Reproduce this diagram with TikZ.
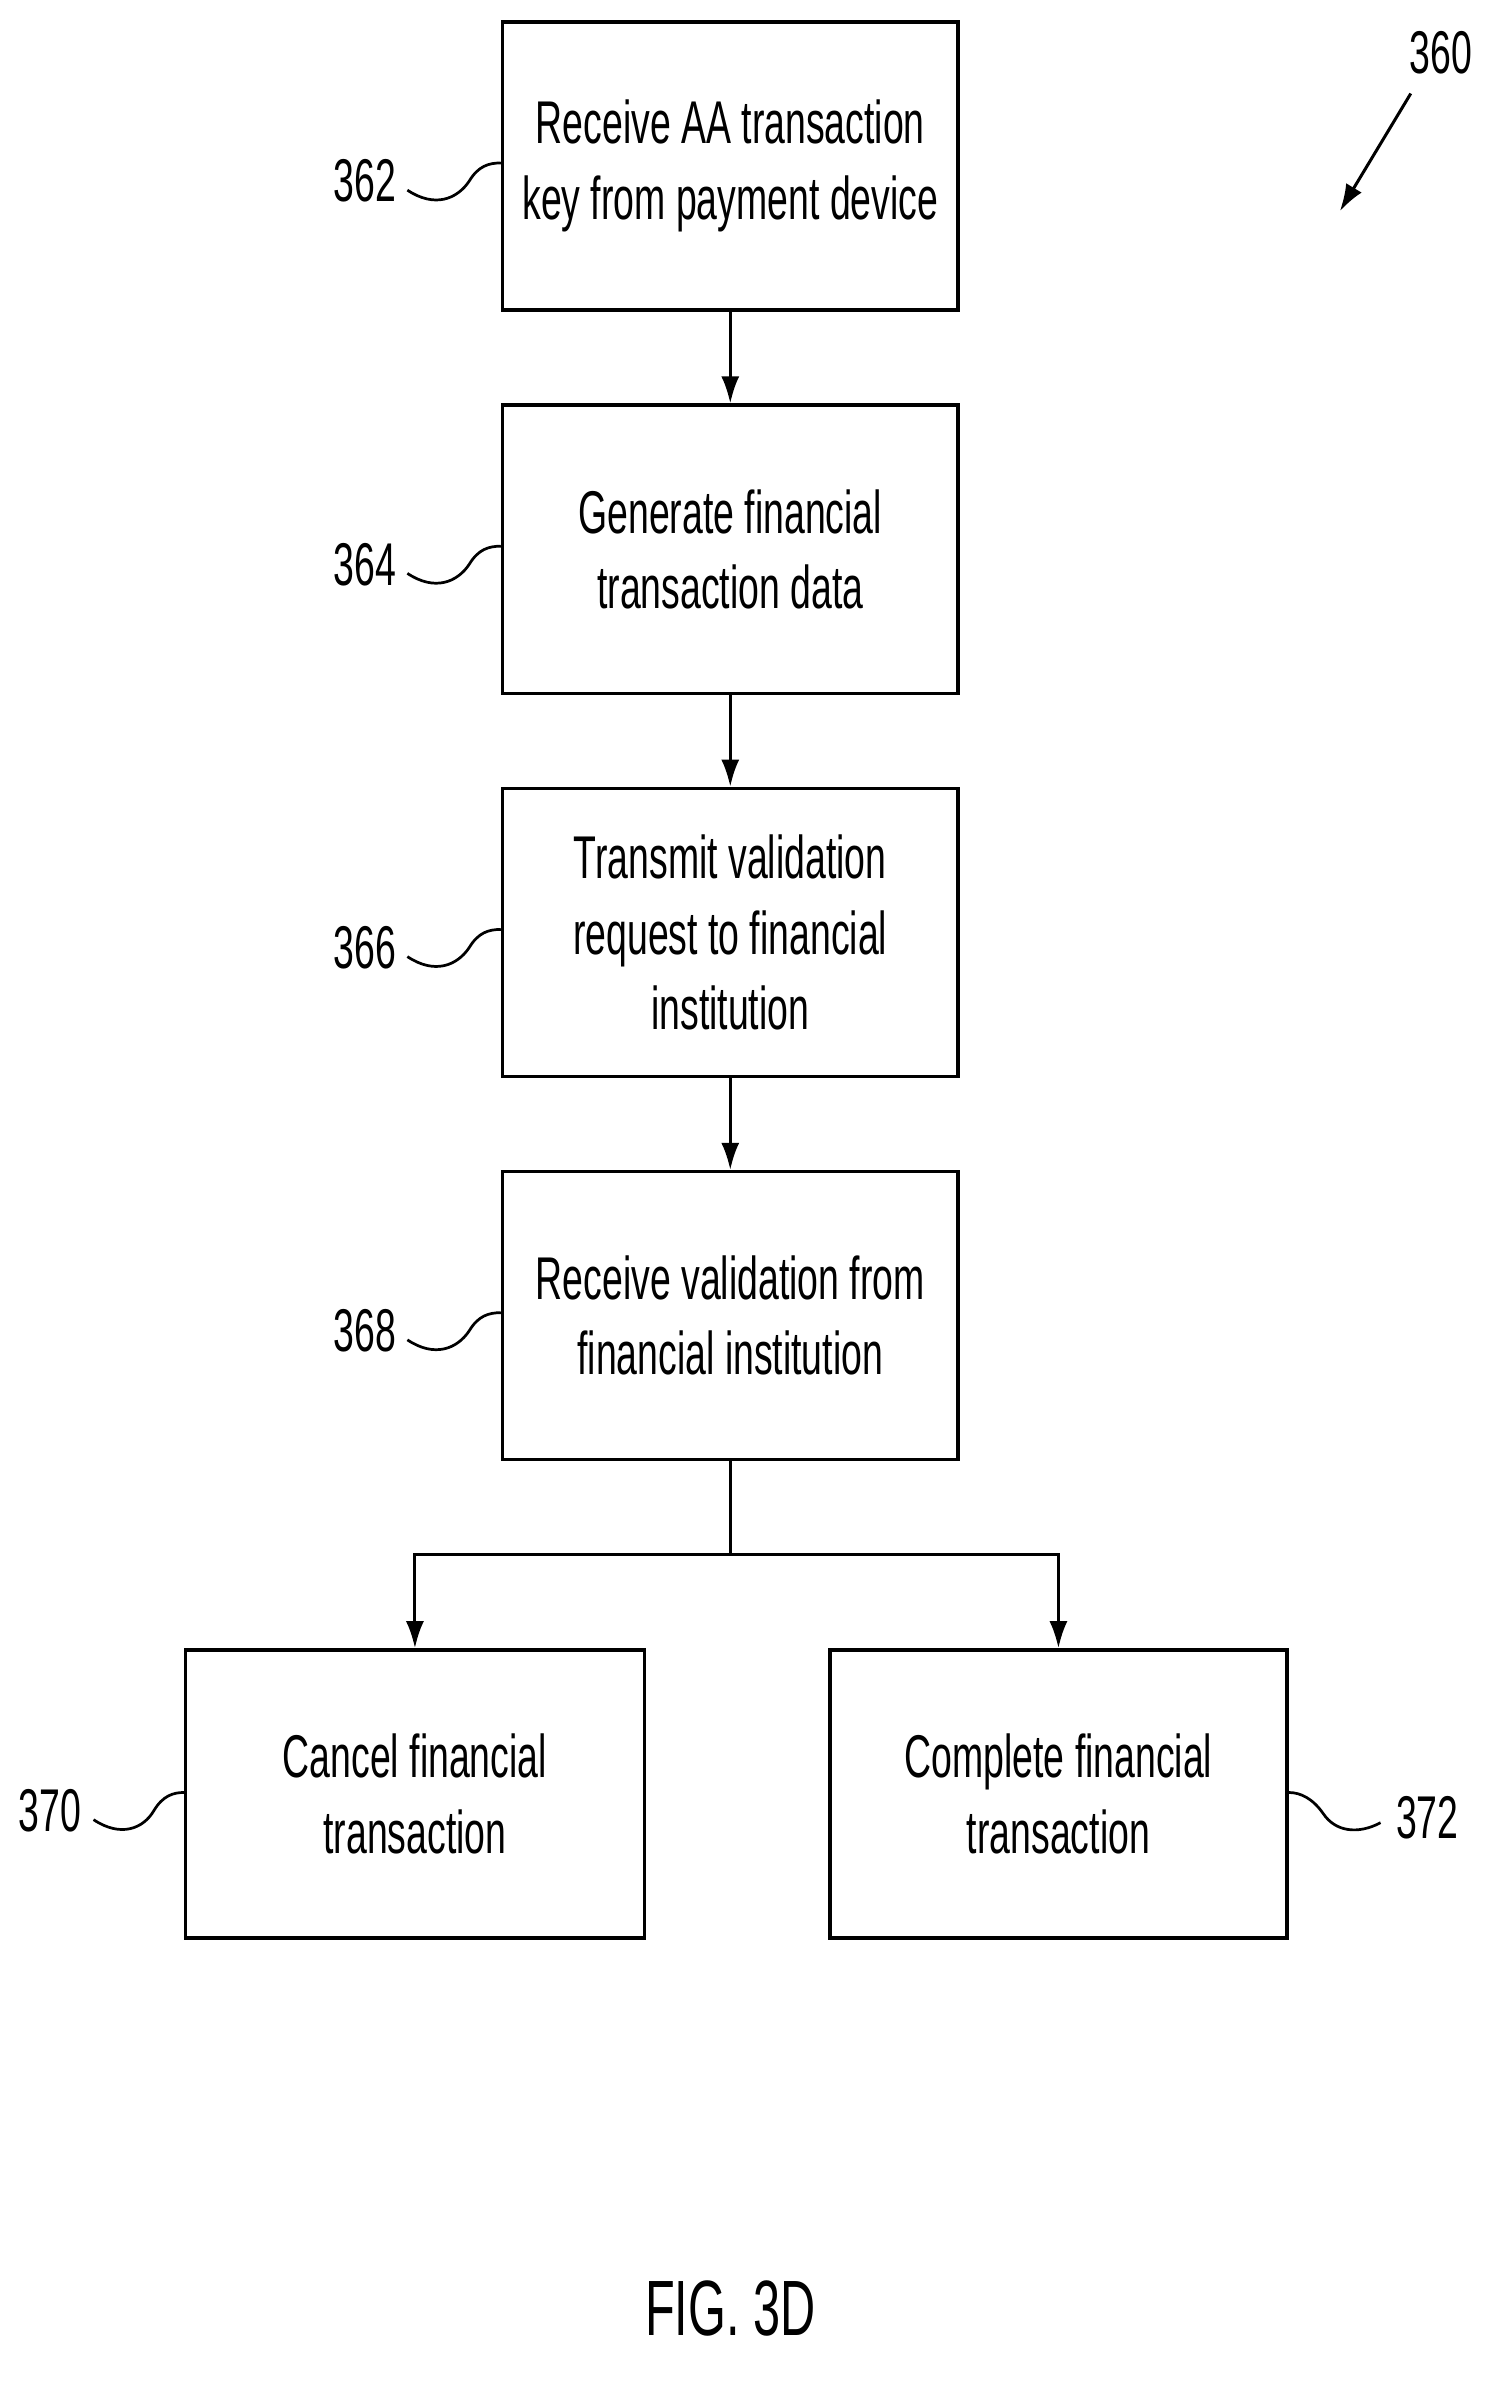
\documentclass[tikz,border=0pt]{standalone}
\usepackage{fontspec}
\setmainfont{Liberation Sans}[FakeStretch=0.62]
\usetikzlibrary{arrows.meta}
\begin{document}
\begin{tikzpicture}[x=1pt,y=-1pt,
  box/.style={draw,line width=2.2pt,minimum width=302pt,minimum height=191pt,align=center,font=\fontsize{40}{50}\selectfont,inner sep=0},
  lbl/.style={font=\fontsize{40}{48}\selectfont,inner sep=0},
  arr/.style={line width=2pt,-{Latex[length=18pt,width=12pt]}},
  sq/.style={line width=1.8pt}]
\useasboundingbox (0,0) rectangle (1000,1588);
\node[box] (b1) at (484,110) {Receive AA transaction\\key from payment device};
\node[box] (b2) at (484,364) {Generate financial\\transaction data};
\node[box] (b3) at (484,618) {Transmit validation\\request to financial\\institution};
\node[box] (b4) at (484,872) {Receive validation from\\financial institution};
\node[box,minimum width=304pt] (b5) at (275,1189) {Cancel financial\\transaction};
\node[box,minimum width=303pt] (b6) at (701.5,1189) {Complete financial\\transaction};
\draw[arr] (b1) -- (b2);
\draw[arr] (b2) -- (b3);
\draw[arr] (b3) -- (b4);
\coordinate (j) at (484,1030);
\draw[line width=2pt] (b4.south) -- (j);
\draw[arr] (j) -| (b5.north);
\draw[arr] (j) -| (b6.north);
\foreach \n/\y/\b in {362/120/b1,364/374/b2,366/628/b3,368/882/b4}{
  \node[lbl] (l\n) at (242,\y) {\n};
  \draw[sq] (270,\y+6) .. controls (288,\y+18) and (303,\y+12) .. (311,\y) .. controls (317,\y-10) and (324,\y-12) .. (\b.west |- 0,\y-12);
}
\node[lbl] (l370) at (33,1200) {370};
\draw[sq] (62,1206) .. controls (80,1218) and (95,1212) .. (102,1200) .. controls (108,1190) and (115,1188) .. (b5.west |- 0,1188);
\node[lbl] (l372) at (946,1205) {372};
\draw[sq] (b6.east |- 0,1188) .. controls (862,1188) and (870,1192) .. (877,1202) .. controls (885,1214) and (900,1216) .. (915,1208);
\node[lbl] (l360) at (955,35) {360};
\coordinate (a0) at (935,62);
\draw[arr] (a0) -- (888,140);
\node[font=\fontsize{52}{60}\selectfont] (fig) at (484,1530) {FIG. 3D};
\end{tikzpicture}
\end{document}
